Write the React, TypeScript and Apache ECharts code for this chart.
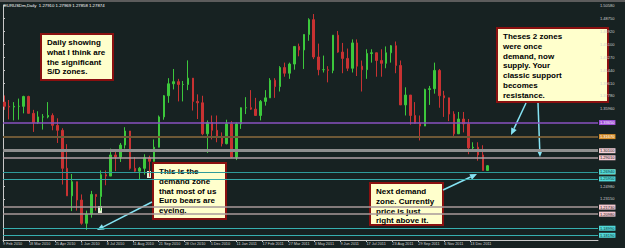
import React, { useEffect, useRef } from "react";
import * as echarts from "echarts";

// Weekly EUR/USD candles (week of 8 Feb 2010 .. week of 9 Jan 2012)
const firstOpen = 1.369;
const weekClose = [
  1.363, 1.362, 1.363, 1.363, 1.377, 1.353, 1.34, 1.348, 1.348, 1.35, 1.336, 1.329,
  1.275, 1.236, 1.256, 1.23, 1.197, 1.21, 1.238, 1.235, 1.266, 1.264, 1.294, 1.291,
  1.308, 1.328, 1.275, 1.271, 1.275, 1.29, 1.285, 1.305, 1.348, 1.378, 1.395, 1.398,
  1.394, 1.394, 1.403, 1.37, 1.368, 1.324, 1.34, 1.329, 1.319, 1.31, 1.338,
  1.291, 1.338, 1.361, 1.361, 1.359, 1.35, 1.37, 1.375, 1.4, 1.391, 1.418, 1.41,
  1.423, 1.448, 1.443, 1.465, 1.486, 1.433, 1.415, 1.415, 1.414, 1.464, 1.44, 1.431,
  1.417, 1.453, 1.42, 1.415, 1.438, 1.439, 1.428, 1.424, 1.439, 1.449, 1.421, 1.365,
  1.379, 1.35, 1.339, 1.335, 1.387, 1.388, 1.414, 1.378, 1.375, 1.352, 1.324, 1.345,
  1.338, 1.304, 1.305, 1.294, 1.272, 1.2787,
];
const weekHigh = [
  1.3785, 1.372, 1.369, 1.374, 1.378, 1.378, 1.358, 1.356, 1.352, 1.369, 1.353, 1.346,
  1.332, 1.3093, 1.267, 1.256, 1.238, 1.215, 1.243, 1.238, 1.272, 1.272, 1.303, 1.3,
  1.311, 1.3334, 1.323, 1.291, 1.277, 1.295, 1.293, 1.316, 1.35, 1.379, 1.403, 1.416,
  1.402, 1.399, 1.4282, 1.4, 1.38, 1.378, 1.343, 1.35, 1.35, 1.326, 1.344,
  1.342, 1.34, 1.358, 1.376, 1.386, 1.375, 1.372, 1.386, 1.403, 1.403, 1.42, 1.425,
  1.425, 1.448, 1.452, 1.465, 1.488, 1.494, 1.452, 1.435, 1.42, 1.464, 1.47, 1.453,
  1.445, 1.458, 1.458, 1.428, 1.444, 1.444, 1.437, 1.444, 1.448, 1.45, 1.455, 1.428,
  1.39, 1.378, 1.369, 1.35, 1.388, 1.392, 1.425, 1.416, 1.385, 1.372, 1.356, 1.355,
  1.355, 1.345, 1.312, 1.312, 1.3078, 1.2797,
];
const weekLow = [
  1.358, 1.3444, 1.343, 1.344, 1.353, 1.353, 1.3267, 1.338, 1.33, 1.346, 1.329, 1.311,
  1.252, 1.236, 1.2143, 1.215, 1.195, 1.1876, 1.205, 1.215, 1.215, 1.251, 1.264, 1.271,
  1.284, 1.303, 1.273, 1.27, 1.259, 1.266, 1.263, 1.286, 1.306, 1.344, 1.368, 1.387,
  1.37, 1.37, 1.386, 1.357, 1.345, 1.322, 1.2968, 1.316, 1.312, 1.306, 1.309,
  1.29, 1.2867, 1.331, 1.352, 1.358, 1.35, 1.343, 1.364, 1.375, 1.375, 1.384, 1.405,
  1.402, 1.415, 1.434, 1.416, 1.456, 1.43, 1.407, 1.411, 1.397, 1.41, 1.439, 1.41,
  1.413, 1.411, 1.406, 1.384, 1.402, 1.425, 1.405, 1.405, 1.417, 1.425, 1.41, 1.365,
  1.35, 1.337, 1.338, 1.3146, 1.335, 1.365, 1.381, 1.361, 1.348, 1.342, 1.321, 1.326,
  1.326, 1.295, 1.299, 1.2858, 1.272, 1.2786,
];

const dateLabels = [
  "9 Feb 2010", "18 Mar 2010", "25 Apr 2010", "1 Jun 2010", "8 Jul 2010",
  "11 Aug 2010", "21 Sep 2010", "28 Oct 2010", "5 Dec 2010", "11 Jan 2011",
  "17 Feb 2011", "27 Mar 2011", "3 May 2011", "9 Jun 2011", "17 Jul 2011",
  "23 Aug 2011", "29 Sep 2011", "6 Nov 2011", "13 Dec 2011",
];

// price-scale labels not hidden behind the zone labels
const priceTicks = [
  1.5058, 1.4875, 1.4692, 1.451, 1.4327, 1.4144, 1.3961, 1.3778, 1.3596,
  1.2498, 1.2315,
];

// Horizontal S/D zone lines
const levelPrices = [1.3365, 1.3167, 1.301, 1.2901, 1.2745, 1.2694, 1.2595, 1.2173, 1.2098, 1.1899, 1.1819];
const levelColors = ["#8a52c0", "#6e5836", "#8e8e8e", "#b0a0a6", "#b4b464", "#2e9a9a", "#36a8a8", "#a89a9a", "#a89a9a", "#36b0b0", "#36b0b0"];
const levelWidths = [1.5, 2, 3, 1.5, 1, 1, 1, 1.5, 1.5, 1, 1];
const levelLabelBg = ["#a050d8", "#d8902c", "#f4d0d8", "#f4c8d0", "#d8d890", "#50d8d8", "#50d8d8", "#f4c8d0", "#f4c8d0", "#50d8d8", "#50d8d8"];
const levelLabelFg = ["#ffffff", "#ffffff", "#202020", "#202020", "#202020", "#103030", "#103030", "#202020", "#202020", "#103030", "#103030"];

const Y_MIN = 1.1733;
const Y_MAX = 1.5068;

const FONT = '"Liberation Sans", Arial, sans-serif';

function arrow(x1: number, y1: number, x2: number, y2: number) {
  const color = "#86e4f4";
  const ang = Math.atan2(y2 - y1, x2 - x1);
  const len = 7;
  const half = 3;
  const bx = x2 - len * Math.cos(ang);
  const by = y2 - len * Math.sin(ang);
  const px = -Math.sin(ang) * half;
  const py = Math.cos(ang) * half;
  return [
    { type: "line", shape: { x1, y1, x2: bx, y2: by }, style: { stroke: color, lineWidth: 1.5 }, silent: true },
    {
      type: "polygon",
      shape: { points: [[x2, y2], [bx + px, by + py], [bx - px, by - py]] },
      style: { fill: color },
      silent: true,
    },
  ];
}

function note(x: number, y: number, w: number, h: number, text: string) {
  return [
    {
      type: "rect",
      shape: { x, y, width: w, height: h },
      style: { fill: "#ffffcc", stroke: "#8a1010", lineWidth: 2 },
      silent: true,
    },
    {
      type: "text",
      x: x + 6,
      y: y + 4,
      style: {
        text,
        fill: "#000000",
        font: `bold 8px ${FONT}`,
        lineHeight: 9.7,
        verticalAlign: "top",
      },
      silent: true,
    },
  ];
}

export default function App() {
  const ref = useRef<HTMLDivElement>(null);

  useEffect(() => {
    if (!ref.current) return;
    const chart = echarts.init(ref.current, undefined, { renderer: "svg" });

    const weeks = weekClose.map((_, i) => "W" + (i + 1));
    const candles = weekClose.map((c, i) => [
      i === 0 ? firstOpen : weekClose[i - 1],
      c,
      weekLow[i],
      weekHigh[i],
    ]);

    const markData = levelPrices.map((p, i) => ({
      yAxis: p,
      lineStyle: { color: levelColors[i], width: levelWidths[i], type: "solid" },
      label: {
        show: true,
        position: "end",
        distance: 1,
        formatter: () => p.toFixed(5),
        backgroundColor: levelLabelBg[i],
        color: levelLabelFg[i],
        fontSize: 4,
        fontFamily: FONT,
        padding: [1, 1, 0, 1],
      },
    }));

    const graphics: any[] = [
      { type: "rect", shape: { x: 0, y: 0, width: 625, height: 2 }, style: { fill: "#5c5c5c" }, silent: true },
      {
        type: "text",
        x: 4,
        y: 3,
        style: {
          text: "EURUSDm,Daily  1.27910 1.27969 1.27858 1.27874",
          fill: "#ffffff",
          font: `4.3px ${FONT}`,
          verticalAlign: "top",
        },
        silent: true,
      },
      { type: "rect", shape: { x: 98, y: 206, width: 4, height: 7 }, style: { fill: "#e4f2d4" }, silent: true },
      { type: "rect", shape: { x: 147, y: 171, width: 4, height: 7 }, style: { fill: "#e4f2d4" }, silent: true },
      ...note(41, 34, 72, 46, "Daily showing\nwhat I think are\nthe significant\nS/D zones."),
      ...note(153, 163, 73, 56, "This is the\ndemand zone\nthat most of us\nEuro bears are\neyeing."),
      ...note(497, 28, 111, 74, "Theses 2 zones\nwere once\ndemand, now\nsupply. Your\nclassic support\nbecomes\nresistance."),
      ...note(370, 183, 73, 42, "Next demand\nzone. Currently\nprice is just\nright above it."),
      ...arrow(152, 202, 97, 230),
      ...arrow(526, 103, 511, 135),
      ...arrow(538, 103, 540, 157),
      ...arrow(443, 190, 477, 174),
    ];

    chart.setOption({
      animation: false,
      backgroundColor: "#172222",
      textStyle: { fontFamily: FONT },
      grid: [
        { left: 2, top: 5, width: 488, height: 235 },
        { left: 2, top: 5, right: 27, height: 235 },
      ],
      xAxis: [
        { type: "category", gridIndex: 0, data: weeks, show: false, boundaryGap: true },
        {
          type: "value",
          gridIndex: 1,
          min: 0,
          max: 596 / 26,
          interval: 1,
          axisLine: { show: true, lineStyle: { color: "#c8c8c8", width: 1 } },
          axisTick: { show: true, length: 2, customValues: dateLabels.map((_, i) => i), lineStyle: { color: "#c8c8c8" } },
          axisLabel: {
            customValues: dateLabels.map((_, i) => i),
            formatter: (v: number) => dateLabels[Math.round(v)] ?? "",
            fontSize: 3.8,
            color: "#d0d0d0",
            align: "left",
            margin: 2,
            fontFamily: FONT,
          },
          splitLine: { show: false },
        },
      ],
      yAxis: [
        { type: "value", gridIndex: 0, min: Y_MIN, max: Y_MAX, show: false, splitLine: { show: false } },
        {
          type: "value",
          gridIndex: 1,
          min: Y_MIN,
          max: Y_MAX,
          position: "right",
          axisLine: { show: true, lineStyle: { color: "#c8c8c8", width: 1 } },
          axisTick: { show: true, length: 2, customValues: priceTicks, lineStyle: { color: "#c8c8c8" } },
          axisLabel: {
            customValues: priceTicks,
            formatter: (v: number) => v.toFixed(5),
            fontSize: 4,
            color: "#d0d0d0",
            margin: 2,
            fontFamily: FONT,
          },
          splitLine: { show: false },
        },
      ],
      series: [
        {
          type: "line",
          xAxisIndex: 1,
          yAxisIndex: 1,
          data: [],
          silent: true,
          markLine: { symbol: ["none", "none"], silent: true, animation: false, data: markData },
        },
        {
          type: "candlestick",
          xAxisIndex: 0,
          yAxisIndex: 0,
          data: candles,
          barWidth: 2,
          itemStyle: {
            color: "#3cc83c",
            color0: "#c83232",
            borderColor: "#3cc83c",
            borderColor0: "#c83232",
            borderWidth: 1,
          },
        },
      ],
      graphic: graphics,
    });

    return () => chart.dispose();
  }, []);

  return (
    <div
      ref={ref}
      style={{ position: "absolute", left: 0, top: 0, width: 625, height: 248 }}
    />
  );
}
